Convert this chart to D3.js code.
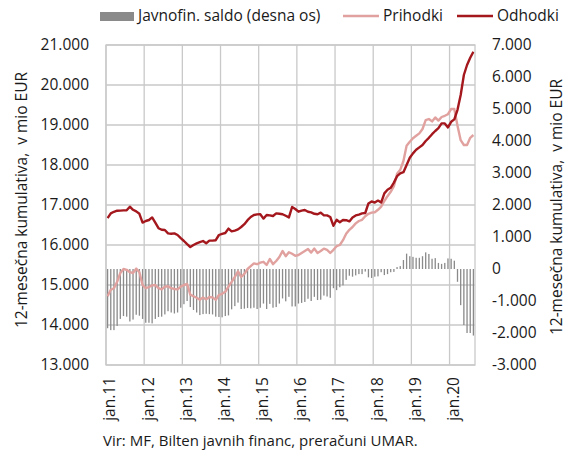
<!DOCTYPE html>
<html>
<head>
<meta charset="utf-8">
<script src="https://cdn.jsdelivr.net/npm/d3@7"></script>
<style>
  body { margin: 0; background: #fff; }
  text { font-family: "Open Sans", "Noto Sans", sans-serif; fill: #1a1a1a; }
</style>
</head>
<body>
<svg id="graf" width="574" height="453"></svg>
<script>

/////////////////////////////////////////////////////
// datos: 12-mesecna kumulativa, v mio EUR
// mesecno od jan.11 do avg.20
/////////////////////////////////////////////////////

var meseci = d3.timeMonth.range(new Date(2011, 0, 1), new Date(2020, 8, 1));

var prihodki = [
  14720, 14880, 14920, 15080, 15300, 15400, 15380, 15320, 15300, 15410, 15320, 15000,
  14920, 14950, 14990, 15000, 14920, 14890, 14960, 14970, 14920, 14900, 14890, 14960,
  15000, 15025, 14760, 14720, 14680, 14630, 14690, 14640, 14700, 14690, 14630, 14750,
  14780, 14830, 14960, 15080, 15200, 15340, 15200, 15280, 15400, 15470, 15540, 15520,
  15560, 15580, 15500, 15650, 15520, 15600, 15700, 15850, 15720, 15820, 15780, 15730,
  15750, 15800, 15850, 15900, 15810, 15910, 15800, 15850, 15910, 15880, 15800, 15880,
  15970, 16000, 16120, 16280, 16380, 16450, 16540, 16600, 16630, 16720, 16780, 16810,
  16820, 16880, 16960, 17100, 17220, 17330, 17470, 17780, 17880, 18100, 18480, 18580,
  18670, 18730, 18790, 18900, 19120, 19150, 19090, 19190, 19110, 19200, 19230, 19270,
  19400, 19400, 18980, 18620, 18500, 18500, 18680, 18750
];

var odhodki = [
  16670, 16790, 16830, 16858, 16860, 16865, 16867, 16958, 16880, 16840, 16780, 16560,
  16600, 16625, 16690, 16560, 16420, 16380, 16375, 16290, 16280, 16290, 16250, 16170,
  16100, 16020, 15950, 16000, 16040, 16070, 16100, 16045, 16110, 16110, 16120, 16250,
  16280, 16300, 16410, 16340, 16360, 16390, 16450, 16520, 16620, 16700, 16750, 16765,
  16770, 16660, 16750, 16740, 16725, 16790, 16780, 16770, 16730, 16690, 16950, 16900,
  16833, 16860, 16875, 16830, 16815, 16780, 16770, 16810, 16740, 16740, 16700, 16480,
  16630, 16570, 16625, 16620, 16590, 16690, 16740, 16760, 16790, 16800, 17040, 17090,
  17060, 17110, 17060, 17290, 17380, 17430, 17560, 17720, 17790, 17820, 18000, 18180,
  18290, 18380, 18440, 18500, 18600, 18680, 18770, 18850, 18920, 19040, 19040, 18940,
  19080, 19140, 19380, 19750, 20250, 20500, 20680, 20830
];

var saldo = [
  -1850, -1910, -1910, -1780, -1560, -1470, -1490, -1640, -1580, -1430, -1460, -1560,
  -1680, -1680, -1700, -1560, -1500, -1490, -1420, -1320, -1360, -1390, -1360, -1210,
  -1100, -1000, -1190, -1280, -1360, -1440, -1410, -1400, -1410, -1420, -1490, -1500,
  -1510, -1470, -1450, -1260, -1160, -1050, -1250, -1240, -1220, -1230, -1210, -1250,
  -1210, -1080, -1250, -1090, -1210, -1190, -1080, -920, -1010, -870, -1170, -1170,
  -1080, -1060, -1030, -930, -1000, -870, -970, -960, -830, -860, -900, -600,
  -660, -570, -510, -340, -210, -240, -200, -160, -160, -80, -260, -280,
  -240, -230, -100, -190, -160, -100, -90, 60, 90, 280, 480, 400,
  380, 350, 350, 400, 520, 470, 320, 340, 190, 160, 190, 330,
  320, 260, -400, -1130, -1750, -2000, -2000, -2080
];

var oznakeX = ["jan.11", "jan.12", "jan.13", "jan.14", "jan.15",
               "jan.16", "jan.17", "jan.18", "jan.19", "jan.20"];

var tickiLevo  = [13000, 14000, 15000, 16000, 17000, 18000, 19000, 20000, 21000];
var tickiDesno = [-3000, -2000, -1000, 0, 1000, 2000, 3000, 4000, 5000, 6000, 7000];

/////////////////////////////////////////////////////
// nastavitve
/////////////////////////////////////////////////////

var x0 = 106, x1 = 475;
var y0 = 45,  y1 = 365;

var barvaPrihodki = "#e0a19f";
var barvaOdhodki  = "#a3171d";
var barvaSaldo    = "#8a8a8a";
var barvaMreza    = "#c9c9c9";

var loc = d3.formatLocale({decimal: ",", thousands: ".", grouping: [3],
                           currency: ["", ""], minus: "-"});
var fmt = loc.format(",.0f");

var svg = d3.select("#graf");

var xScale = d3.scaleBand()
               .domain(meseci)
               .range([x0, x1])
               .padding(0);

var yLevo = d3.scaleLinear()
              .domain([13000, 21000])
              .range([y1, y0]);

var yDesno = d3.scaleLinear()
               .domain([-3000, 7000])
               .range([y1, y0]);

var sredina = function(d) { return xScale(d) + xScale.bandwidth() / 2; };

var januarji = meseci.filter(function(d) { return d.getMonth() === 0; });

/////////////////////////////////////////////////////
// mreza
/////////////////////////////////////////////////////

var mreza = svg.append("g").attr("class", "mreza");

mreza.selectAll("line.h")
     .data(tickiLevo)
     .enter().append("line")
     .attr("x1", x0).attr("x2", x1)
     .attr("y1", function(d) { return yLevo(d); })
     .attr("y2", function(d) { return yLevo(d); })
     .attr("stroke", barvaMreza)
     .attr("stroke-width", 1.3);

mreza.selectAll("line.v")
     .data(januarji)
     .enter().append("line")
     .attr("x1", function(d) { return xScale(d); })
     .attr("x2", function(d) { return xScale(d); })
     .attr("y1", y0).attr("y2", y1)
     .attr("stroke", barvaMreza)
     .attr("stroke-width", 1.3);

/////////////////////////////////////////////////////
// stolpci: javnofinancni saldo (desna os)
/////////////////////////////////////////////////////

var sirina = 1.3;

svg.append("g")
   .selectAll("rect")
   .data(saldo)
   .enter().append("rect")
   .attr("x", function(d, i) { return sredina(meseci[i]) - sirina / 2; })
   .attr("y", function(d) { return yDesno(Math.max(0, d)); })
   .attr("width", sirina)
   .attr("height", function(d) { return Math.abs(yDesno(d) - yDesno(0)); })
   .attr("fill", barvaSaldo);

/////////////////////////////////////////////////////
// crte: prihodki in odhodki (leva os)
/////////////////////////////////////////////////////

var crta = d3.line()
             .x(function(d, i) { return sredina(meseci[i]); })
             .y(function(d) { return yLevo(d); });

svg.append("path")
   .datum(prihodki)
   .attr("d", crta)
   .attr("fill", "none")
   .attr("stroke", barvaPrihodki)
   .attr("stroke-width", 2.4)
   .attr("stroke-linejoin", "round");

svg.append("path")
   .datum(odhodki)
   .attr("d", crta)
   .attr("fill", "none")
   .attr("stroke", barvaOdhodki)
   .attr("stroke-width", 2.4)
   .attr("stroke-linejoin", "round");

// okvir

svg.append("rect")
   .attr("x", x0).attr("y", y0)
   .attr("width", x1 - x0).attr("height", y1 - y0)
   .attr("fill", "none")
   .attr("stroke", barvaMreza)
   .attr("stroke-width", 1.3);

/////////////////////////////////////////////////////
// osi
/////////////////////////////////////////////////////

var osLevo = d3.axisLeft(yLevo)
               .tickValues(tickiLevo)
               .tickFormat(fmt)
               .tickSize(0)
               .tickPadding(17);

var osDesno = d3.axisRight(yDesno)
                .tickValues(tickiDesno)
                .tickFormat(fmt)
                .tickSize(0)
                .tickPadding(17);

var gL = svg.append("g")
            .attr("transform", "translate(" + x0 + ",0)")
            .call(osLevo);

var gD = svg.append("g")
            .attr("transform", "translate(" + x1 + ",0)")
            .call(osDesno);

[gL, gD].forEach(function(g) {
    g.select(".domain").remove();
    g.selectAll("text")
     .style("font-size", "15.5px")
     .style("font-family", "'Open Sans', sans-serif")
     .attr("fill", "#1a1a1a");
});

// oznake na osi x (zasukane)

svg.append("g")
   .selectAll("text")
   .data(januarji)
   .enter().append("text")
   .attr("transform", function(d) {
       return "translate(" + (xScale(d) + 4) + ",377) rotate(-90)";
   })
   .attr("dy", ".35em")
   .style("text-anchor", "end")
   .style("font-size", "15.5px")
   .text(function(d, i) { return oznakeX[i]; });

// naslovi osi

svg.append("text")
   .attr("transform", "translate(27,200) rotate(-90)")
   .style("text-anchor", "middle")
   .style("font-size", "15.5px")
   .style("white-space", "pre")
   .text("12-mesečna kumulativa,  v mio EUR");

svg.append("text")
   .attr("transform", "translate(562,207) rotate(-90)")
   .style("text-anchor", "middle")
   .style("font-size", "15.5px")
   .style("white-space", "pre")
   .text("12-mesečna kumulativa,  v mio EUR");

/////////////////////////////////////////////////////
// legenda
/////////////////////////////////////////////////////

var leg = svg.append("g").style("font-size", "15.5px");

leg.append("rect")
   .attr("x", 100).attr("y", 12)
   .attr("width", 34).attr("height", 9)
   .attr("fill", barvaSaldo);

leg.append("text").attr("x", 138).attr("y", 21)
   .text("Javnofin. saldo (desna os)");

leg.append("line")
   .attr("x1", 343).attr("x2", 379).attr("y1", 16).attr("y2", 16)
   .attr("stroke", barvaPrihodki).attr("stroke-width", 2.4);

leg.append("text").attr("x", 383).attr("y", 21).text("Prihodki");

leg.append("line")
   .attr("x1", 457).attr("x2", 493).attr("y1", 16).attr("y2", 16)
   .attr("stroke", barvaOdhodki).attr("stroke-width", 2.4);

leg.append("text").attr("x", 497).attr("y", 21).text("Odhodki");

// vir

svg.append("text")
   .attr("x", 103).attr("y", 446)
   .style("font-size", "15px")
   .text("Vir: MF, Bilten javnih financ, preračuni UMAR.");

</script>
</body>
</html>
